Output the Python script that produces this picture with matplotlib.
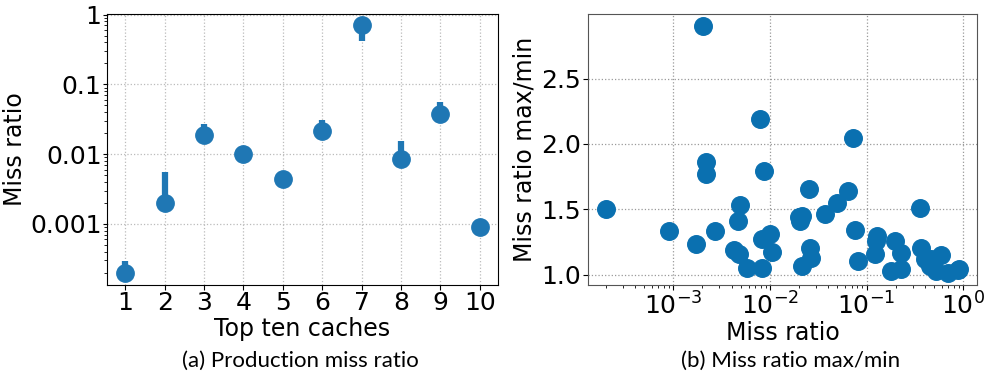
import matplotlib
matplotlib.use('Agg')
import matplotlib.pyplot as plt
import matplotlib.ticker as ticker
import numpy as np

# (a) production miss ratio of the top ten caches, with min/max range
caches = [1, 2, 3, 4, 5, 6, 7, 8, 9, 10]
miss_ratio = [2.0e-4, 0.00202, 0.019, 0.0101, 0.00433, 0.0214, 0.71, 0.00865, 0.038, 0.00091]
miss_min = [1.8e-4, 0.0019, 0.017, 0.0095, 0.0040, 0.019, 0.42, 0.0080, 0.034, 0.00085]
miss_max = [2.9e-4, 0.0056, 0.027, 0.0110, 0.0046, 0.0308, 0.75, 0.0155, 0.055, 0.00097]

# (b) miss ratio vs. max/min ratio
mr = [2.0e-4, 0.00202, 9.1e-4, 0.00171, 0.0022, 0.0022, 0.0027, 0.00486, 0.00471,
      0.00425, 0.00478, 0.00582, 0.00792, 0.0087, 0.0083, 0.0101, 0.0105, 0.0083,
      0.0198, 0.0203, 0.0215, 0.0251, 0.0262, 0.0268, 0.0215, 0.0374, 0.0492,
      0.065, 0.0731, 0.0762, 0.0822, 0.127, 0.125, 0.122, 0.1995, 0.226, 0.181,
      0.226, 0.355, 0.369, 0.40, 0.468, 0.45, 0.593, 0.527, 0.695, 0.88, 0.917]
mr_ratio = [1.50, 2.90, 1.333, 1.236, 1.865, 1.773, 1.333, 1.535, 1.407,
            1.187, 1.161, 1.054, 2.19, 1.794, 1.272, 1.31, 1.174, 1.049,
            1.443, 1.41, 1.45, 1.655, 1.207, 1.13, 1.067, 1.464, 1.545,
            1.643, 2.042, 1.341, 1.105, 1.297, 1.259, 1.157, 1.259, 1.169, 1.028,
            1.046, 1.512, 1.207, 1.118, 1.118, 1.067, 1.151, 1.028, 1.015, 1.036, 1.046]

plt.rcParams['font.family'] = 'DejaVu Sans'

fig = plt.figure(figsize=(9.92, 3.78), dpi=100)
ax1 = fig.add_axes([0.108, 0.246, 0.394, 0.717])
ax2 = fig.add_axes([0.593, 0.246, 0.392, 0.717])

mr_a = np.array(miss_ratio)
yerr = [mr_a - np.array(miss_min), np.array(miss_max) - mr_a]
ax1.errorbar(caches, miss_ratio, yerr=yerr, fmt='o', color='#1f77b4',
             markersize=12.5, elinewidth=4.5, capsize=0, zorder=3)
ax1.set_yscale('log')
ax1.set_ylim(1.33e-4, 1.02)
ax1.set_xlim(0.54, 10.46)
ax1.set_xticks(caches)
ax1.set_yticks([0.001, 0.01, 0.1, 1])
ax1.yaxis.set_major_formatter(ticker.FixedFormatter(['0.001', '0.01', '0.1', '1']))
ax1.grid(True, linestyle=':', color='#bbbbbb', linewidth=0.9)
ax1.set_xlabel('Top ten caches', fontsize=17, labelpad=1)
ax1.set_ylabel('Miss ratio', fontsize=17, labelpad=2)
ax1.tick_params(labelsize=18, pad=1)
ax1.tick_params(axis='y', which='major', length=3)
ax1.tick_params(axis='y', which='minor', length=2)

ax2.scatter(mr, mr_ratio, s=160, color='#0a70b0', zorder=3)
ax2.set_xscale('log')
ax2.set_yticks([1.0, 1.5, 2.0, 2.5])
ax2.grid(True, linestyle=':', color='#999999', linewidth=0.9)
ax2.set_xlabel('Miss ratio', fontsize=17, labelpad=1)
ax2.set_ylabel('Miss ratio max/min', fontsize=17, labelpad=3)
ax2.tick_params(labelsize=18, pad=2)
for sp in ax2.spines.values():
    sp.set_color('#555555')

cap_font = ['Lato', 'DejaVu Sans']
fig.text(0.303, 0.045, '(a) Production miss ratio', ha='center', va='center',
         fontsize=16, family=cap_font)
fig.text(0.797, 0.045, '(b) Miss ratio max/min', ha='center', va='center',
         fontsize=16, family=cap_font)

fig.savefig('out.png', dpi=100)
